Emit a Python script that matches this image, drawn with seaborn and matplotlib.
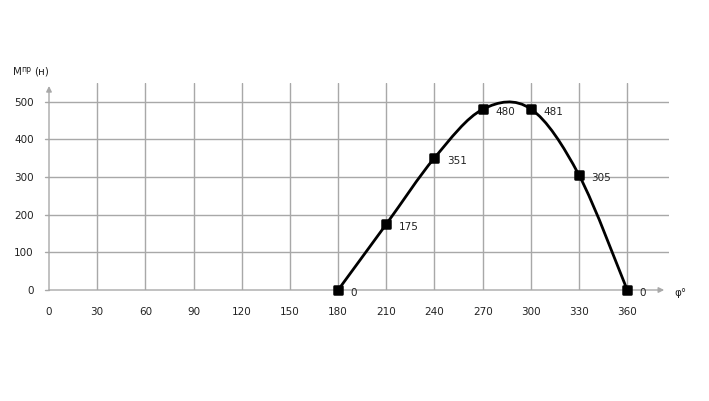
import matplotlib
matplotlib.use("Agg")
import matplotlib.pyplot as plt
from matplotlib.path import Path
from matplotlib.patches import PathPatch
from matplotlib.markers import MarkerStyle
import seaborn as sns
import pandas as pd

# crank angle (deg) and moment values
phi = [180, 210, 240, 270, 300, 330, 360]
moment = [0, 175, 351, 480, 481, 305, 0]
x_ticks = list(range(0, 361, 30))
y_ticks = list(range(0, 501, 100))

df = pd.DataFrame({"phi": phi, "moment": moment})

sns.set_theme(style="white")
plt.rcParams["font.family"] = ["DejaVu Sans"]

W, H = 709, 401
fig = plt.figure(figsize=(W / 100, H / 100), dpi=100)
ax = fig.add_axes([49 / W, (H - 290) / H, 620 / W, 207 / H])
ax.set_xlim(0, 386)
ax.set_ylim(0, 550)
for s in ax.spines.values():
    s.set_visible(False)

# grid
for x in x_ticks[1:]:
    ax.axvline(x, color="#a8a8a8", lw=1.0, zorder=0)
for y in y_ticks[1:]:
    ax.axhline(y, color="#a8a8a8", lw=1.0, zorder=0)

# axes with arrows
ax.annotate("", xy=(0, 542), xytext=(0, 0),
            arrowprops=dict(arrowstyle="-|>", color="#a8a8a8", lw=1.0,
                            mutation_scale=8, shrinkA=0, shrinkB=0))
ax.annotate("", xy=(383, 0), xytext=(0, 0),
            arrowprops=dict(arrowstyle="-|>", color="#a8a8a8", lw=1.0,
                            mutation_scale=8, shrinkA=0, shrinkB=0))

ax.set_xticks(x_ticks)
ax.set_yticks(y_ticks)
ax.tick_params(axis="both", labelsize=7.5, colors="#222222", length=0)
ax.tick_params(axis="x", pad=12)
ax.tick_params(axis="y", pad=11)
for y in y_ticks:
    ax.plot([-2.5, 0], [y, y], color="#a8a8a8", lw=1.0, clip_on=False)

# smooth curve (bezier through the data points)
verts = [(phi[0], moment[0])]
codes = [Path.MOVETO]
n = len(phi)
for i in range(n - 1):
    p0 = (phi[max(i - 1, 0)], moment[max(i - 1, 0)])
    p1 = (phi[i], moment[i])
    p2 = (phi[i + 1], moment[i + 1])
    p3 = (phi[min(i + 2, n - 1)], moment[min(i + 2, n - 1)])
    c1 = (p1[0] + (p2[0] - p0[0]) / 6, p1[1] + (p2[1] - p0[1]) / 6)
    c2 = (p2[0] - (p3[0] - p1[0]) / 6, p2[1] - (p3[1] - p1[1]) / 6)
    verts += [c1, c2, p2]
    codes += [Path.CURVE4] * 3
ax.add_patch(PathPatch(Path(verts, codes), fill=False, color="black", lw=2, zorder=3))

sns.scatterplot(data=df, x="phi", y="moment", ax=ax, color="black",
                marker=MarkerStyle("s", joinstyle="round"), s=36,
                edgecolor="black", linewidth=1.8, zorder=4, clip_on=False)
ax.set_xlabel("")
ax.set_ylabel("")

for x, y in zip(phi, moment):
    ax.annotate(str(y), (x, y), xytext=(9, -2), textcoords="offset points",
                fontsize=7.5, color="#222222", va="center", ha="left")

# axis labels
fig.text(13 / W, 1 - 72 / H, "M", fontsize=7.5, va="center", ha="left", color="#222222")
fig.text(21.5 / W, 1 - 70 / H, "пр", fontsize=5.5, va="center", ha="left", color="#222222")
fig.text(34 / W, 1 - 72 / H, "(н)", fontsize=7.5, va="center", ha="left", color="#222222")
fig.text(674 / W, 1 - 293 / H, "φ°", fontsize=7.5, va="center", ha="left", color="#222222")

fig.savefig("out.png", dpi=100)
